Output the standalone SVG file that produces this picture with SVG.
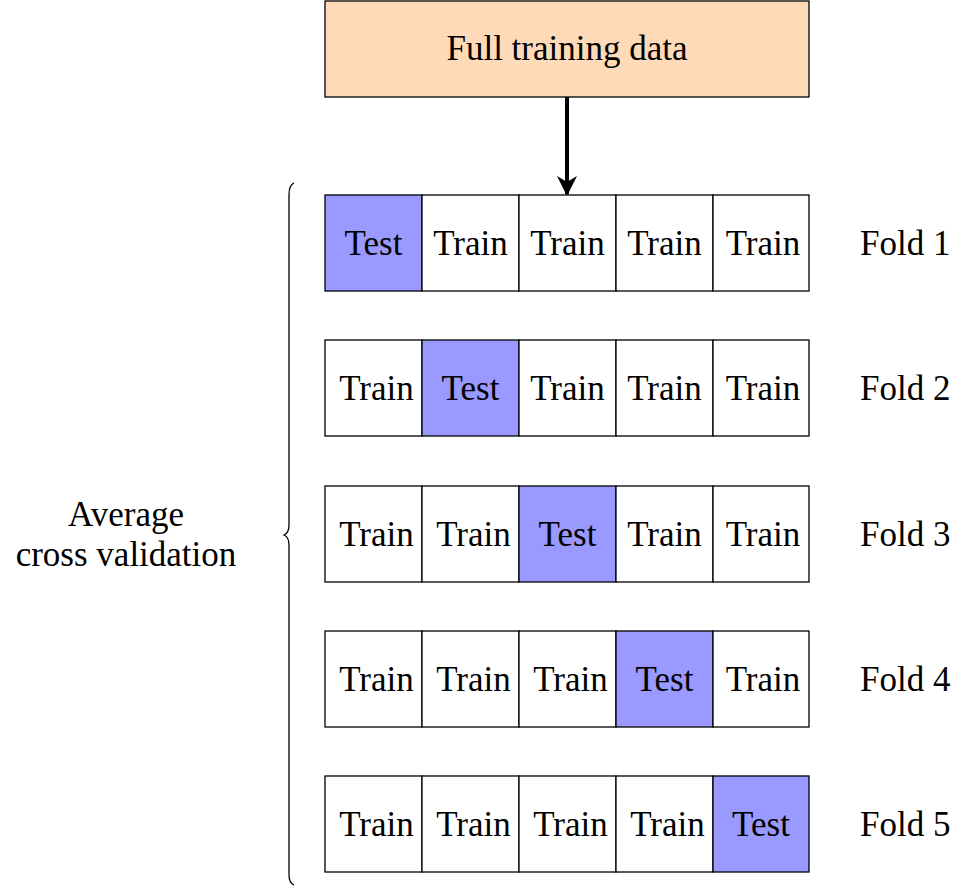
<svg xmlns="http://www.w3.org/2000/svg" width="959" height="886" viewBox="0 0 959 886">
<defs>
<style>
text{font-family:"Liberation Serif","Times New Roman",serif;font-size:35px;fill:#000;text-anchor:middle}
.cell{fill:#fff;stroke:#000;stroke-width:1.3}
.test{fill:#9999ff;stroke:#000;stroke-width:1.3}
.lbl{text-anchor:start}
</style>
<marker id="ah" viewBox="0 0 10 10" refX="9" refY="5" markerWidth="5.5" markerHeight="5" orient="auto" markerUnits="strokeWidth">
<path d="M0,0 L10,5 L0,10 L3,5 Z" fill="#000"/>
</marker>
</defs>
<rect width="959" height="886" fill="#fff"/>
<g id="full">
<rect x="325" y="1" width="484" height="96" fill="#ffdab9" stroke="#000" stroke-width="1.3"/>
<text x="567" y="60">Full training data</text>
</g>
<g id="connectors">
<line x1="567" y1="97" x2="567" y2="194" stroke="#000" stroke-width="4" marker-end="url(#ah)"/>
<path d="M294,183 Q289,185 289,195 L289,525 Q289,533 284,535 Q289,537 289,545 L289,875 Q289,883 294,885" fill="none" stroke="#000" stroke-width="1.3"/>
</g>
<g id="fold1">
<rect class="test" x="325" y="195" width="97" height="96"/><text x="373.5" y="255">Test</text>
<rect class="cell" x="422" y="195" width="97" height="96"/><text x="470.5" y="255">Train</text>
<rect class="cell" x="519" y="195" width="97" height="96"/><text x="567.5" y="255">Train</text>
<rect class="cell" x="616" y="195" width="97" height="96"/><text x="664.5" y="255">Train</text>
<rect class="cell" x="713" y="195" width="96" height="96"/><text x="763" y="255">Train</text>
<text class="lbl" x="860" y="255">Fold 1</text>
</g>
<g id="fold2">
<rect class="cell" x="325" y="340" width="97" height="96"/><text x="376.5" y="400">Train</text>
<rect class="test" x="422" y="340" width="97" height="96"/><text x="470.5" y="400">Test</text>
<rect class="cell" x="519" y="340" width="97" height="96"/><text x="567.5" y="400">Train</text>
<rect class="cell" x="616" y="340" width="97" height="96"/><text x="664.5" y="400">Train</text>
<rect class="cell" x="713" y="340" width="96" height="96"/><text x="763" y="400">Train</text>
<text class="lbl" x="860" y="400">Fold 2</text>
</g>
<g id="fold3">
<rect class="cell" x="325" y="486" width="97" height="96"/><text x="376.5" y="546">Train</text>
<rect class="cell" x="422" y="486" width="97" height="96"/><text x="473.5" y="546">Train</text>
<rect class="test" x="519" y="486" width="97" height="96"/><text x="567.5" y="546">Test</text>
<rect class="cell" x="616" y="486" width="97" height="96"/><text x="664.5" y="546">Train</text>
<rect class="cell" x="713" y="486" width="96" height="96"/><text x="763" y="546">Train</text>
<text class="lbl" x="860" y="546">Fold 3</text>
</g>
<g id="fold4">
<rect class="cell" x="325" y="631" width="97" height="96"/><text x="376.5" y="691">Train</text>
<rect class="cell" x="422" y="631" width="97" height="96"/><text x="473.5" y="691">Train</text>
<rect class="cell" x="519" y="631" width="97" height="96"/><text x="570.5" y="691">Train</text>
<rect class="test" x="616" y="631" width="97" height="96"/><text x="664.5" y="691">Test</text>
<rect class="cell" x="713" y="631" width="96" height="96"/><text x="763" y="691">Train</text>
<text class="lbl" x="860" y="691">Fold 4</text>
</g>
<g id="fold5">
<rect class="cell" x="325" y="776" width="97" height="96"/><text x="376.5" y="836">Train</text>
<rect class="cell" x="422" y="776" width="97" height="96"/><text x="473.5" y="836">Train</text>
<rect class="cell" x="519" y="776" width="97" height="96"/><text x="570.5" y="836">Train</text>
<rect class="cell" x="616" y="776" width="97" height="96"/><text x="667.5" y="836">Train</text>
<rect class="test" x="713" y="776" width="96" height="96"/><text x="761" y="836">Test</text>
<text class="lbl" x="860" y="836">Fold 5</text>
</g>
<g id="avg">
<text x="126" y="526">Average</text>
<text x="126" y="566">cross validation</text>
</g>
</svg>
